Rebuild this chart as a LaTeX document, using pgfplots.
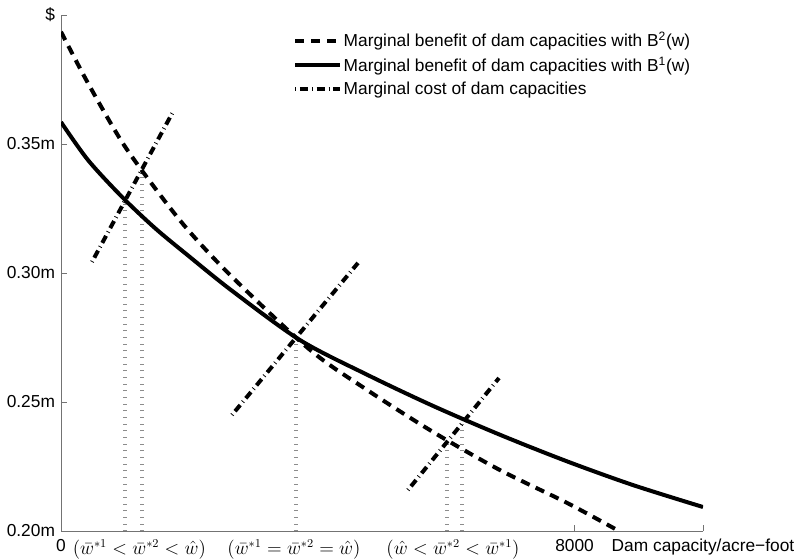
\documentclass[border=0pt]{standalone}
\usepackage{pgfplots}
\pgfplotsset{compat=1.18}
\usepackage{fontspec}
\setmainfont{Liberation Sans}
\begin{document}
\fontsize{13}{15.6}\selectfont
\begin{tikzpicture}
\useasboundingbox (-45.75pt,-20.25pt) rectangle (553.5pt,398.25pt);
\begin{axis}[
  at={(0,0)}, anchor=south west,
  scale only axis, width=481.5pt, height=387pt,
  xmin=0, xmax=10000, ymin=0.2, ymax=0.4,
  axis x line*=bottom, axis y line*=left,
  axis line style={black!55, line width=0.6pt},
  every tick/.style={black!55, line width=0.6pt},
  tick align=inside, major tick length=4.5pt,
  scaled x ticks=false, scaled y ticks=false,
  xtick={0,8000,10000},
  xticklabels={0,8000,Dam capacity/acre−foot},
  extra x ticks={1220,3629,6106},
  extra x tick labels={{$(\bar{w}^{*1}<\bar{w}^{*2}<\hat{w})$},{$(\bar{w}^{*1}=\bar{w}^{*2}=\hat{w})$},{$(\hat{w}<\bar{w}^{*2}<\bar{w}^{*1})$}},
  extra x tick style={major tick length=0pt, xticklabel style={yshift=-0.5pt, font=\fontsize{13.5}{16}\selectfont}},
  ytick={0.2,0.25,0.3,0.35,0.4},
  yticklabels={0.20m,0.25m,0.30m,0.35m,\$},
  ticklabel style={font=\fontsize{13}{15.6}\selectfont},
  xticklabel style={yshift=-1.5pt},
  legend style={draw=none, fill=none, at={(0.361,0.971)}, anchor=north west,
    inner sep=0pt, row sep=3pt, font=\fontsize{13}{15.6}\selectfont,
    nodes={inner sep=1.5pt}},
  legend cell align=left,
  legend image code/.code={\draw[#1] (0pt,0pt) -- (33.5pt,0pt);},
]
% dotted vertical guides
\addplot[forget plot, black!45, line width=3pt, dash pattern=on 0.6pt off 4.4pt] coordinates {(997,0.2) (997,0.328)};
\addplot[forget plot, black!45, line width=3pt, dash pattern=on 0.6pt off 4.4pt] coordinates {(1262,0.2) (1262,0.340)};
\addplot[forget plot, black!45, line width=3pt, dash pattern=on 0.6pt off 4.4pt] coordinates {(3660,0.2) (3660,0.275)};
\addplot[forget plot, black!45, line width=3pt, dash pattern=on 0.6pt off 4.4pt] coordinates {(6012,0.2) (6012,0.235)};
\addplot[forget plot, black!45, line width=3pt, dash pattern=on 0.6pt off 4.4pt] coordinates {(6246,0.2) (6246,0.242)};
% B2 dashed
\addplot[black, line width=3pt, smooth, dash pattern=on 7pt off 5pt] coordinates {
(0,0.3935) (420,0.3736) (950,0.3508) (1464,0.3329) (1978,0.3167) (2664,0.2985)
(3879,0.2702) (4766,0.2547) (5794,0.2384) (6838,0.2236) (7882,0.2109) (8690,0.2)};
\addlegendentry{Marginal benefit of dam capacities with B\textsuperscript{2}(w)}
% B1 solid
\addplot[black, line width=3pt, smooth] coordinates {
(0,0.3585) (420,0.3438) (950,0.3295) (1464,0.3174) (1978,0.3068) (2664,0.2931)
(3723,0.2740) (4766,0.2606) (5794,0.2485) (6838,0.2373) (7882,0.2270) (8910,0.2178) (10000,0.2093)};
\addlegendentry{Marginal benefit of dam capacities with B\textsuperscript{1}(w)}
% cost lines
\addplot[black, line width=3pt, dash pattern=on 0.6pt off 3pt on 6pt off 3pt] coordinates {(483,0.3043) (1760,0.3632)};
\addlegendentry{Marginal cost of dam capacities}
\addplot[forget plot, black, line width=3pt, dash pattern=on 0.6pt off 3pt on 6pt off 3pt] coordinates {(2664,0.2450) (4626,0.3039)};
\addplot[forget plot, black, line width=3pt, dash pattern=on 0.6pt off 3pt on 6pt off 3pt] coordinates {(5405,0.2159) (6822,0.2593)};
\end{axis}
\end{tikzpicture}
\end{document}
